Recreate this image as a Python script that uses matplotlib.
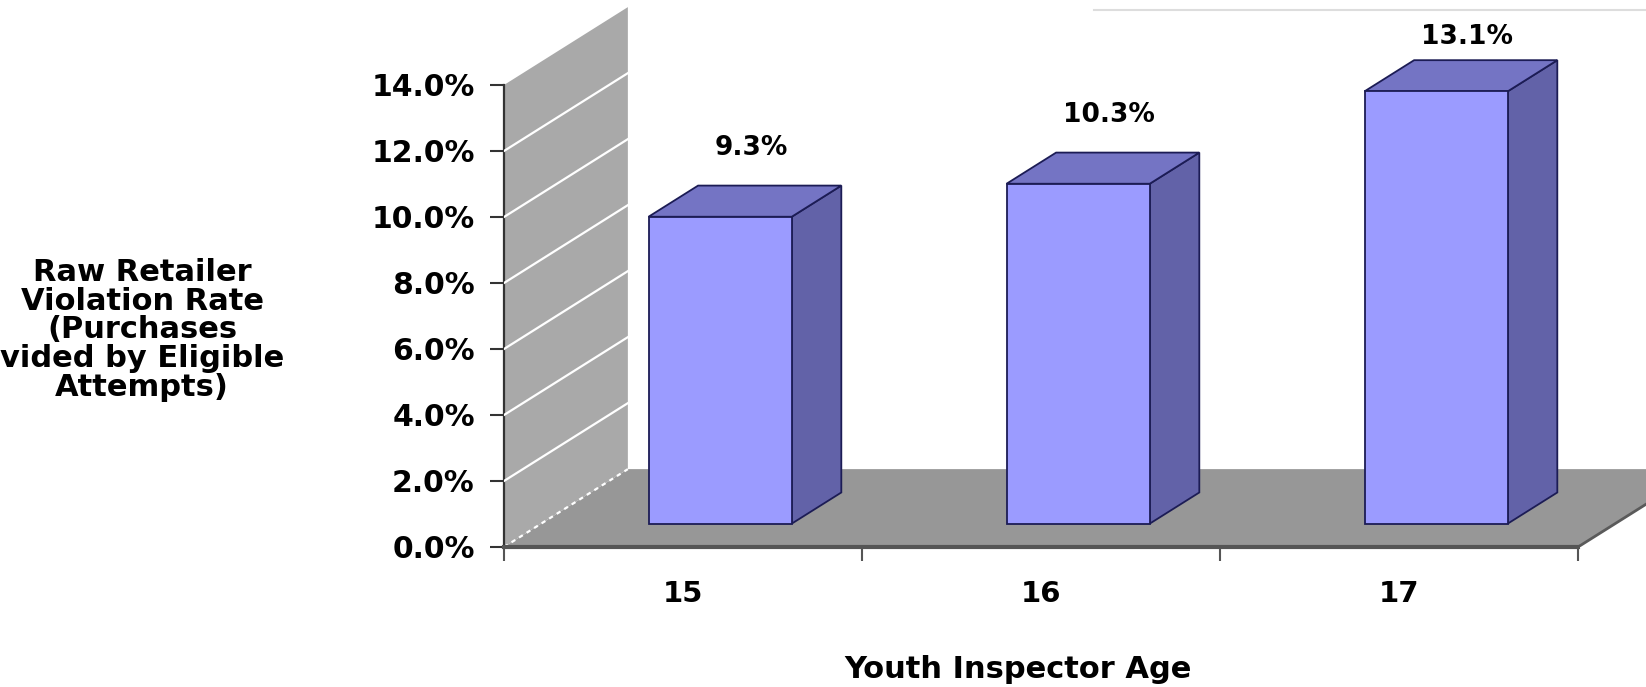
import matplotlib.pyplot as plt
from matplotlib.patches import Polygon
from matplotlib.lines import Line2D

# data
ages = ['15', '16', '17']
rates = [9.3, 10.3, 13.1]
rate_labels = ['9.3%', '10.3%', '13.1%']
y_ticks = [0, 2, 4, 6, 8, 10, 12, 14]
y_label_lines = ['Raw Retailer', 'Violation Rate', '(Purchases', 'vided by Eligible', 'Attempts)']

# fake 3d: depth z in [0, 1] shifts right by DX (categories) and up by DY (%)
DX, DY = 0.346, 2.36
Z0, Z1 = 0.3, 0.7
BAR_W = 0.4
Y_MAX = 14

FRONT = '#9b9bff'
SIDE = '#6262a8'
TOP = '#7474c4'
EDGE = '#1c1c55'


def proj(x, y, z):
    return (x + z * DX, y + z * DY)


def face(pts, color, zorder, ec='none', lw=0):
    return Polygon([proj(*p) for p in pts], closed=True, facecolor=color,
                   edgecolor=ec, linewidth=lw, zorder=zorder)


plt.rcParams['font.family'] = ['DejaVu Sans']
plt.rcParams['font.weight'] = 'bold'

fig = plt.figure(figsize=(16.46, 6.87), dpi=100)
ax = fig.add_axes([504 / 1646, 140 / 687, 1 - 504 / 1646, 547 / 687])
ax.set_xlim(-0.5, -0.5 + (1646 - 504) / 358)
ax.set_ylim(0, 547 / 33)
ax.patch.set_visible(False)

n = len(ages)
x_lo, x_hi = -0.5, n - 0.5

# floor
ax.add_patch(face([(x_lo, 0, 0), (x_hi, 0, 0), (x_hi, 0, 1), (x_lo, 0, 1)], '#979797', 1))
ax.plot(*zip(proj(x_hi, 0, 0), proj(x_hi, 0, 1)), color='#5a5a5a', lw=2, zorder=1.5)

# side wall with gridlines
ax.add_patch(face([(x_lo, 0, 0), (x_lo, Y_MAX, 0), (x_lo, Y_MAX, 1), (x_lo, 0, 1)], '#a9a9a9', 2))
for t in y_ticks[:-1]:
    p0, p1 = proj(x_lo, t, 0), proj(x_lo, t, 1)
    ax.plot([p0[0], p1[0]], [p0[1], p1[1]], color='white', lw=1.6,
            ls=(0, (2, 2)) if t == 0 else '-', zorder=3)

# bars
for i, v in enumerate(rates):
    x0, x1 = i - BAR_W / 2, i + BAR_W / 2
    ax.add_patch(face([(x1, 0, Z0), (x1, 0, Z1), (x1, v, Z1), (x1, v, Z0)], SIDE, 4, EDGE, 1.3))
    ax.add_patch(face([(x0, v, Z0), (x1, v, Z0), (x1, v, Z1), (x0, v, Z1)], TOP, 4, EDGE, 1.3))
    ax.add_patch(face([(x0, 0, Z0), (x1, 0, Z0), (x1, v, Z0), (x0, v, Z0)], FRONT, 5, EDGE, 1.3))
    lx, ly = proj(i, v, 0.55)
    ax.text(lx, min(v + Z1 * DY + 1.15, 15.45), rate_labels[i], ha='center', va='center',
            fontsize=19, fontweight='bold', zorder=6)

# axes lines and ticks
for s in ['top', 'right']:
    ax.spines[s].set_visible(False)
ax.spines['left'].set_bounds(0, Y_MAX)
ax.spines['left'].set_color('#333333')
ax.spines['left'].set_linewidth(1.6)
ax.spines['bottom'].set_bounds(x_lo, x_hi)
ax.spines['bottom'].set_color('#555555')
ax.spines['bottom'].set_linewidth(3)
ax.spines['bottom'].set_zorder(7)

ax.set_yticks(y_ticks)
ax.set_yticklabels([f'{t:.1f}%' for t in y_ticks])
ax.tick_params(axis='y', length=10, width=1.5, color='#333333', pad=11, labelsize=21.5)

ax.set_xticks([i - 0.5 for i in range(n + 1)])
ax.set_xticklabels([])
ax.set_xticks(range(n), minor=True)
ax.set_xticklabels(ages, minor=True)
ax.tick_params(axis='x', which='major', length=10, width=1.5, color='#555555')
ax.tick_params(axis='x', which='minor', length=0, pad=24, labelsize=21)

fig.text(1018 / 1646, 1 - 670 / 687, 'Youth Inspector Age', ha='center', va='center',
         fontsize=22, fontweight='bold')
fig.text(0, 1 - 330 / 687, '\n'.join(y_label_lines), ha='left', va='center',
         multialignment='center', linespacing=0.98, fontsize=22, fontweight='bold')

# faint frame line at the top right
fig.add_artist(Line2D([1094 / 1646, 1], [1 - 10 / 687] * 2, transform=fig.transFigure,
                      color='#dddddd', lw=1.5))

fig.savefig('out.png', dpi=100)
